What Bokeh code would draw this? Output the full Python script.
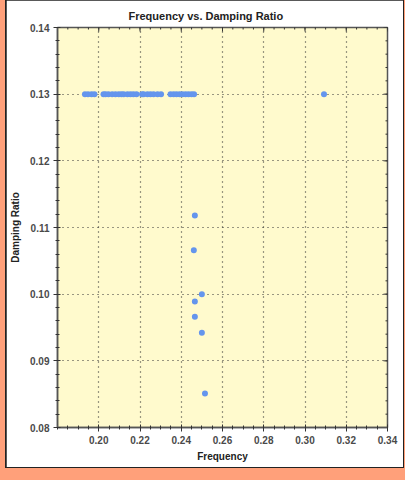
import math
from bokeh.plotting import figure
from bokeh.models import FixedTicker, NumeralTickFormatter
from bokeh.layouts import column
from bokeh.embed import file_html
from bokeh.resources import INLINE

# ---- data ----
frequency = [0.1933, 0.1948, 0.1965, 0.1979,
             0.2023, 0.2033, 0.2047, 0.2065, 0.2081, 0.2097, 0.2110, 0.2121,
             0.2139, 0.2154, 0.2168, 0.2183,
             0.2210, 0.2218, 0.2236, 0.2251, 0.2266, 0.2285, 0.2302,
             0.2348, 0.2363, 0.2377, 0.2392, 0.2406, 0.2421, 0.2435, 0.2450, 0.2462,
             0.3092,
             0.2466, 0.2461, 0.2500, 0.2466, 0.2466, 0.2500, 0.2515]
damping = [0.13] * 33 + [0.1118, 0.1066, 0.1000, 0.0989, 0.0966, 0.0942, 0.0851]

x_start, x_end = 0.18, 0.34
y_start, y_end = 0.08, 0.14
x_ticks = [0.20, 0.22, 0.24, 0.26, 0.28, 0.30, 0.32, 0.34]
x_minor = [round(0.18 + 0.005 * i, 3) for i in range(33)]
y_ticks = [0.08, 0.09, 0.10, 0.11, 0.12, 0.13, 0.14]
y_minor = [round(0.08 + 0.002 * i, 3) for i in range(31)]

FONT = "Liberation Sans"

p = figure(width=397, height=467, x_range=(x_start, x_end), y_range=(y_start, y_end),
           output_backend="svg", toolbar_location=None,
           min_border_left=51, min_border_right=16, min_border_top=27, min_border_bottom=40,
           background_fill_color="#FFFACD", border_fill_color="white")
p.margin = (0, 1, 1, 1)

p.outline_line_color = "#555555"
p.outline_line_width = 1.5

p.title.text = "Frequency vs. Damping Ratio"
p.title.text_font = FONT
p.title.text_font_size = "11px"
p.title.text_font_style = "bold"
p.title.text_color = "#222222"
p.title.align = "left"
p.title.offset = 71
p.title.standoff = 12

def style_axis(ax):
    ax.axis_line_color = "#555555"
    ax.axis_line_width = 1.5
    ax.major_tick_line_color = "#333333"
    ax.minor_tick_line_color = "#333333"
    ax.major_tick_in = 3
    ax.major_tick_out = 4
    ax.minor_tick_in = 2
    ax.minor_tick_out = 2
    ax.major_label_text_font = FONT
    ax.major_label_text_font_size = "10px"
    ax.major_label_text_font_style = "bold"
    ax.major_label_text_color = "#4a4a4a"
    ax.major_label_standoff = 4
    ax.axis_label_text_font = FONT
    ax.axis_label_text_font_size = "10px"
    ax.axis_label_text_font_style = "bold"
    ax.axis_label_text_color = "#222222"
    ax.formatter = NumeralTickFormatter(format="0.00")

p.xaxis.ticker = FixedTicker(ticks=x_ticks, minor_ticks=x_minor)
p.yaxis.ticker = FixedTicker(ticks=y_ticks, minor_ticks=y_minor)
p.xaxis.axis_label = "Frequency"
p.yaxis.axis_label = "Damping Ratio"
style_axis(p.xaxis[0])
style_axis(p.yaxis[0])
p.xaxis.axis_label_standoff = 4
p.yaxis.axis_label_standoff = 6

for g in (p.xgrid[0], p.ygrid[0]):
    g.grid_line_color = "#333333"
    g.grid_line_dash = "1 4"
    g.grid_line_width = 1.2

# inward ticks on the top and right edges (half of each dash is clipped away)
p.scatter(x_minor, [y_end] * len(x_minor), marker="dash", angle=math.pi / 2,
          size=4, line_color="#333333", line_width=1)
p.scatter(x_ticks, [y_end] * len(x_ticks), marker="dash", angle=math.pi / 2,
          size=8, line_color="#333333", line_width=1)
p.scatter([x_end] * len(y_minor), y_minor, marker="dash",
          size=4, line_color="#333333", line_width=1)
p.scatter([x_end] * len(y_ticks), y_ticks, marker="dash",
          size=8, line_color="#333333", line_width=1)

p.scatter(frequency, damping, size=6, fill_color="#6495ED", line_color=None)

panel = column(p, styles={"background-color": "#222222"})
panel.margin = (0, 1, 12, 5)
page = column(panel, styles={"background-color": "#FFA07A"})

open("out.html", "w").write(file_html(page, INLINE))
